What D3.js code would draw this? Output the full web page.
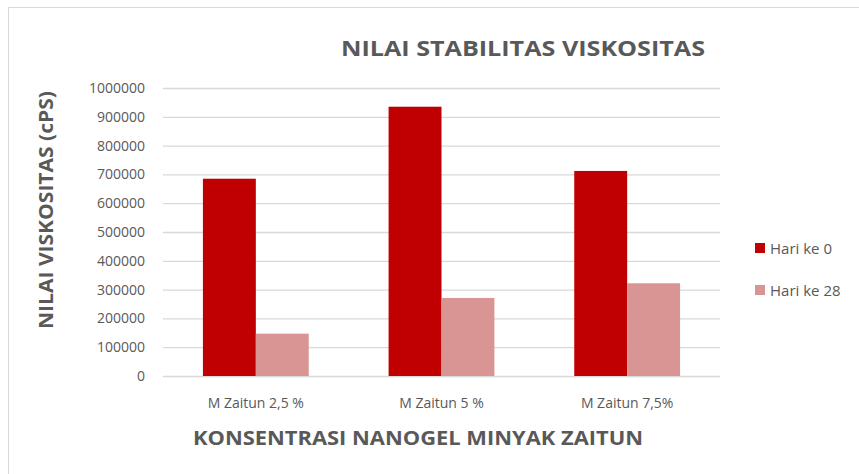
<!DOCTYPE html>
<html>
<head>
<meta charset="utf-8">
<script src="https://cdn.jsdelivr.net/npm/d3@7"></script>
<style>
  body { margin: 0; background: #fff; overflow: hidden; }
  svg { display: block; }
  text { font-family: "Open Sans", "Noto Sans", sans-serif; }
</style>
</head>
<body>
<svg></svg>
<script>
const categories = ['M Zaitun 2,5 %', 'M Zaitun 5 %', 'M Zaitun 7,5%'];
const seriesNames = ['Hari ke 0', 'Hari ke 28'];
const hari0 = [685000, 935000, 712000];
const hari28 = [147000, 271000, 322000];
const yTicks = [0, 100000, 200000, 300000, 400000, 500000, 600000, 700000, 800000, 900000, 1000000];
const colors = ['#c00000', '#d99594'];

const width = 859, height = 474;
const margin = {top: 88, right: 139, bottom: 98, left: 163};
const innerWidth = width - margin.left - margin.right;
const innerHeight = height - margin.top - margin.bottom;

const svg = d3.select('svg')
  .attr('width', width)
  .attr('height', height);

// chart frame (only top and left edges are inside the picture)
svg.append('path')
  .attr('d', `M8.5,${height} V7.5 H${width}`)
  .attr('fill', 'none')
  .attr('stroke', '#d9d9d9');

const data = categories.map((c, i) => ({category: c, values: [hari0[i], hari28[i]]}));

const xScale = d3.scaleBand()
  .domain(categories)
  .range([0, innerWidth])
  .paddingInner(0.43)
  .paddingOuter(0.215);

const xSub = d3.scaleBand()
  .domain(d3.range(seriesNames.length))
  .range([0, xScale.bandwidth()]);

const yScale = d3.scaleLinear()
  .domain([0, 1000000])
  .range([innerHeight, 0]);

const g = svg.append('g')
  .attr('transform', `translate(${margin.left}, ${margin.top})`);

// gridlines + y labels
g.append('g').call(d3.axisLeft(yScale).tickValues(yTicks).tickSize(-innerWidth).tickPadding(18).tickFormat(d3.format('d')))
  .call(s => s.select('.domain').remove())
  .call(s => s.selectAll('.tick line').attr('stroke', '#d9d9d9').attr('stroke-width', 1.3))
  .call(s => s.selectAll('.tick text').attr('fill', '#595959').style('font-size', '14px'));

// bars
const groups = g.selectAll('.grp').data(data)
  .enter().append('g')
  .attr('transform', d => `translate(${xScale(d.category)}, 0)`);

groups.selectAll('rect').data(d => d.values)
  .enter().append('rect')
  .attr('x', (d, i) => xSub(i))
  .attr('y', d => yScale(d))
  .attr('width', xSub.bandwidth())
  .attr('height', d => innerHeight - yScale(d))
  .attr('fill', (d, i) => colors[i]);

// x labels
g.append('g').call(d3.axisBottom(xScale).tickSize(0).tickPadding(22))
  .attr('transform', `translate(0, ${innerHeight})`)
  .call(s => s.select('.domain').remove())
  .call(s => s.selectAll('.tick text').attr('fill', '#595959').style('font-size', '14px'));

// titles
svg.append('text')
  .text('NILAI STABILITAS VISKOSITAS')
  .attr('x', 523).attr('y', 56)
  .attr('text-anchor', 'middle')
  .attr('fill', '#595959')
  .style('font-size', '21px').style('font-weight', 'bold')
  .attr('textLength', 364).attr('lengthAdjust', 'spacingAndGlyphs');

svg.append('text')
  .text('KONSENTRASI NANOGEL MINYAK ZAITUN')
  .attr('x', 418).attr('y', 445)
  .attr('text-anchor', 'middle')
  .attr('fill', '#595959')
  .style('font-size', '19px').style('font-weight', 'bold')
  .attr('textLength', 450).attr('lengthAdjust', 'spacingAndGlyphs');

svg.append('text')
  .text('NILAI VISKOSITAS (cPS)')
  .attr('transform', 'translate(53, 210) rotate(-90)')
  .attr('text-anchor', 'middle')
  .attr('fill', '#595959')
  .style('font-size', '19px').style('font-weight', 'bold')
  .attr('textLength', 238).attr('lengthAdjust', 'spacingAndGlyphs');

// legend
const legend = svg.append('g').attr('transform', 'translate(755, 243)');
seriesNames.forEach((name, i) => {
  const row = legend.append('g').attr('transform', `translate(0, ${i * 42})`);
  row.append('rect').attr('width', 10).attr('height', 10).attr('fill', colors[i]);
  row.append('text').text(name)
    .attr('x', 15).attr('y', 10.5)
    .attr('fill', '#595959')
    .style('font-size', '15px');
});
</script>
</body>
</html>
